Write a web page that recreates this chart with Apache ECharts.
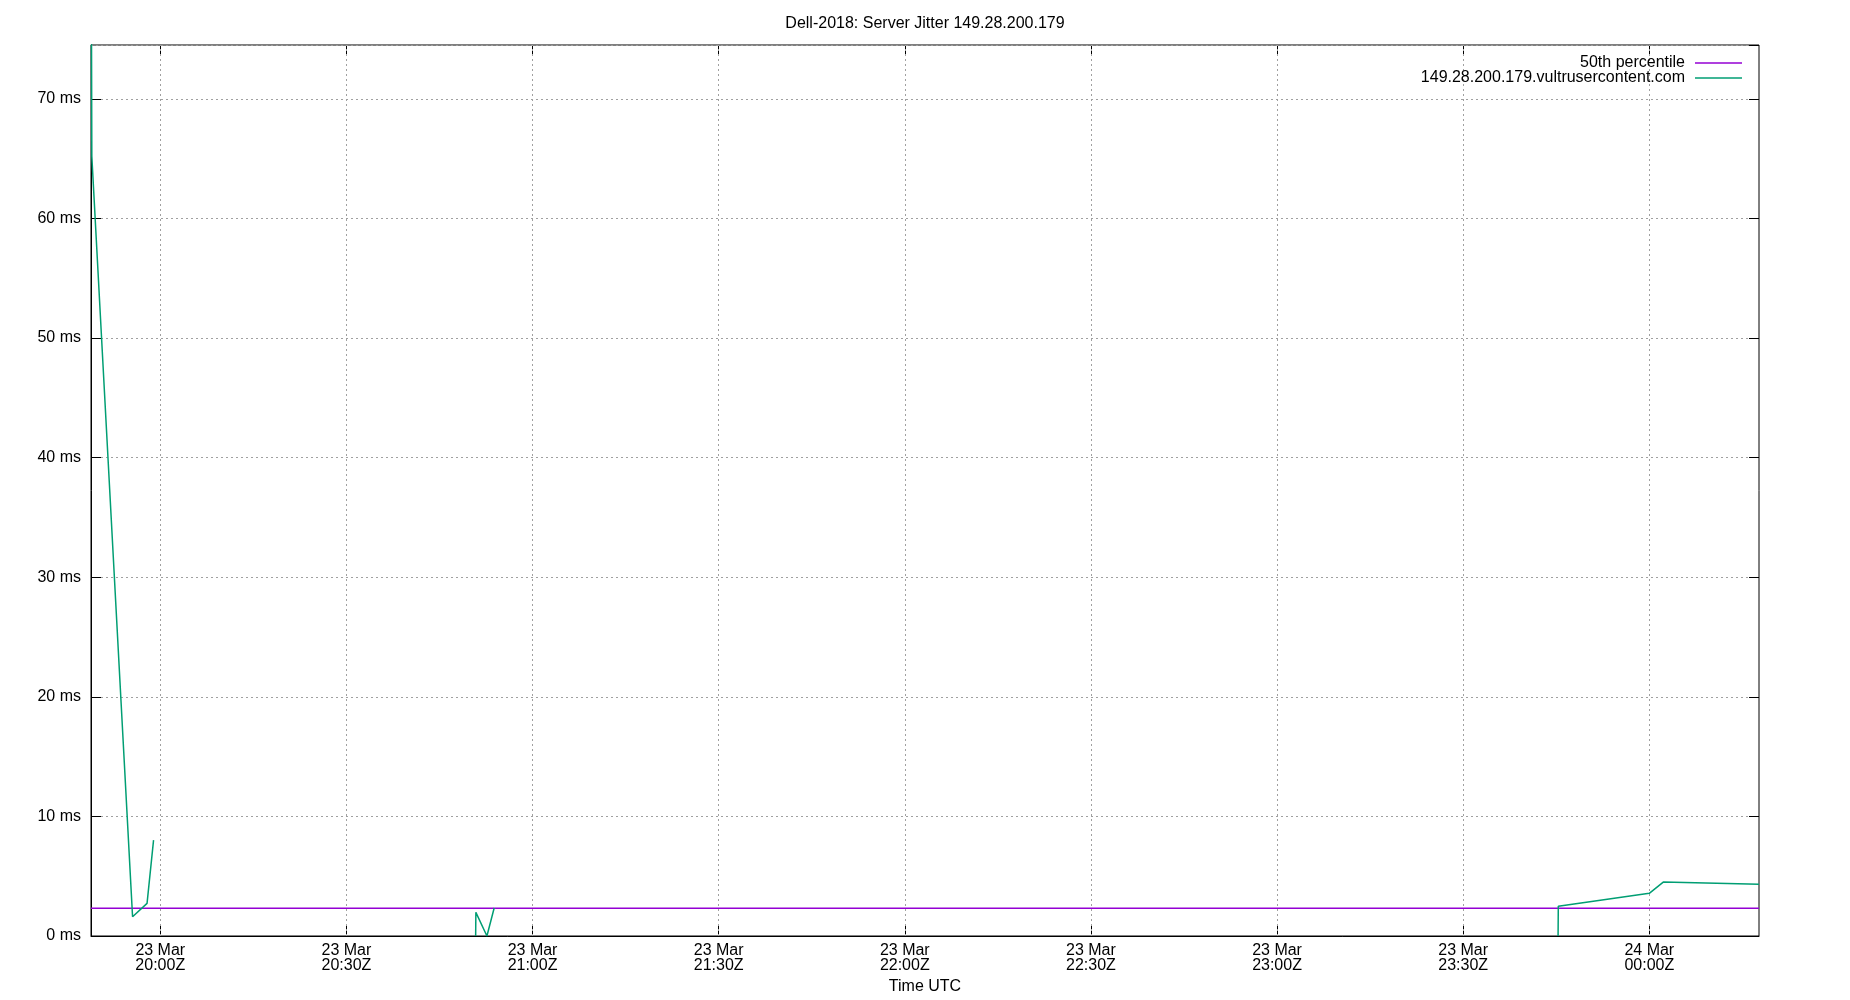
<!DOCTYPE html>
<html>
<head>
<meta charset="utf-8">
<script src="https://cdn.jsdelivr.net/npm/echarts@6/dist/echarts.min.js"></script>
<style>
html,body{margin:0;padding:0;background:#fff;}
#chart{width:1850px;height:1000px;}
</style>
</head>
<body>
<div id="chart"></div>
<script>
// ---- data ----
const chartTitle = 'Dell-2018: Server Jitter 149.28.200.179';
const xAxisTitle = 'Time UTC';
const xRange = ['2024-03-23T19:48:50Z', '2024-03-24T00:17:41Z'];
const xTickTimes = [
  '2024-03-23T20:00:00Z', '2024-03-23T20:30:00Z', '2024-03-23T21:00:00Z',
  '2024-03-23T21:30:00Z', '2024-03-23T22:00:00Z', '2024-03-23T22:30:00Z',
  '2024-03-23T23:00:00Z', '2024-03-23T23:30:00Z', '2024-03-24T00:00:00Z'
];
const yRange = [0, 74.5];
const yTickStep = 10;
const monthNames = ['Jan','Feb','Mar','Apr','May','Jun','Jul','Aug','Sep','Oct','Nov','Dec'];

const medianName = '50th percentile';
const medianTimes = ['2024-03-23T19:48:50Z', '2024-03-24T00:17:41Z'];
const medianValues = [2.31, 2.31];

const hostName = '149.28.200.179.vultrusercontent.com';
const hostTimes = [
  '2024-03-23T19:48:40Z', '2024-03-23T19:48:58Z', '2024-03-23T19:55:32Z',
  '2024-03-23T19:57:52Z', '2024-03-23T19:58:55Z', '2024-03-23T20:25:00Z',
  '2024-03-23T20:50:50Z', '2024-03-23T20:50:52Z', '2024-03-23T20:52:39Z',
  '2024-03-23T20:53:49Z', '2024-03-23T22:00:00Z', '2024-03-23T23:45:18Z',
  '2024-03-23T23:45:20Z', '2024-03-24T00:00:00Z', '2024-03-24T00:02:15Z',
  '2024-03-24T00:17:41Z'
];
const hostValues = [
  120, 65.2, 1.61,
  2.73, 8.02, null,
  0, 1.98, 0,
  2.34, null, 0,
  2.48, 3.57, 4.51,
  4.32
];

// ---- chart ----
const FONT = '"Liberation Sans", Arial, sans-serif';
const ms = t => Date.parse(t);
const pad = n => (n < 10 ? '0' : '') + n;
const toPairs = (ts, vs) => ts.map((t, i) => [ms(t), vs[i]]);
const tickValues = xTickTimes.map(ms);
const gridStyle = { color: '#a0a0a0', width: 1, type: [2, 3] };

const chart = echarts.init(document.getElementById('chart'));
chart.setOption({
  animation: false,
  backgroundColor: '#fff',
  textStyle: { fontFamily: FONT },
  title: {
    text: chartTitle, left: 'center', top: 11,
    textStyle: { fontFamily: FONT, fontSize: 16, fontWeight: 'normal', color: '#000' }
  },
  legend: [
    { data: [medianName], right: 108, top: 55, padding: 0, align: 'right', icon: 'rect',
      itemWidth: 47, itemHeight: 1.5,
      textStyle: { fontFamily: FONT, fontSize: 16, color: '#000', padding: [0, 5, 0, 0] } },
    { data: [hostName], right: 108, top: 70, padding: 0, align: 'right', icon: 'rect',
      itemWidth: 47, itemHeight: 1.5,
      textStyle: { fontFamily: FONT, fontSize: 16, color: '#000', padding: [0, 5, 0, 0] } }
  ],
  grid: { left: 91, right: 91, top: 45, bottom: 64, show: true, borderColor: '#000', borderWidth: 1, containLabel: false },
  xAxis: [
    {
      type: 'value', position: 'bottom',
      min: ms(xRange[0]), max: ms(xRange[1]),
      name: xAxisTitle, nameLocation: 'middle', nameGap: 41,
      nameTextStyle: { fontFamily: FONT, fontSize: 16, color: '#000' },
      axisLine: { show: true, onZero: false, lineStyle: { color: '#000', width: 1 } },
      axisTick: { show: true, inside: true, length: 10, customValues: tickValues, lineStyle: { color: '#000' } },
      axisLabel: {
        show: true, margin: 7, fontFamily: FONT, fontSize: 16, lineHeight: 15, color: '#000',
        customValues: tickValues, hideOverlap: false,
        formatter: function (v) {
          const d = new Date(v);
          return d.getUTCDate() + ' ' + monthNames[d.getUTCMonth()] + '\n' +
            pad(d.getUTCHours()) + ':' + pad(d.getUTCMinutes()) + 'Z';
        }
      },
      splitLine: { show: false }
    },
    {
      type: 'value', position: 'top',
      min: ms(xRange[0]), max: ms(xRange[1]),
      axisLine: { show: false, onZero: false },
      axisTick: { show: true, inside: true, length: 10, customValues: tickValues, lineStyle: { color: '#000' } },
      axisLabel: { show: false },
      splitLine: { show: false }
    }
  ],
  yAxis: [
    {
      type: 'value', position: 'left',
      min: yRange[0], max: yRange[1], interval: yTickStep,
      axisLine: { show: true, onZero: false, lineStyle: { color: '#000', width: 1 } },
      axisTick: { show: true, inside: true, length: 10, lineStyle: { color: '#000' } },
      axisLabel: { show: true, margin: 10, fontFamily: FONT, fontSize: 16, color: '#000',
        showMaxLabel: false, formatter: '{value} ms' },
      splitLine: { show: true, lineStyle: gridStyle }
    },
    {
      type: 'value', position: 'right',
      min: yRange[0], max: yRange[1], interval: yTickStep,
      axisLine: { show: false, onZero: false },
      axisTick: { show: true, inside: true, length: 10, lineStyle: { color: '#000' } },
      axisLabel: { show: false },
      splitLine: { show: false }
    }
  ],
  series: [
    {
      name: medianName, type: 'line', xAxisIndex: 0, yAxisIndex: 0,
      data: toPairs(medianTimes, medianValues),
      symbol: 'none', clip: true, z: 2,
      lineStyle: { color: '#9400d3', width: 1.5 }, itemStyle: { color: '#9400d3' },
      markLine: {
        silent: true, symbol: 'none', z: 1,
        label: { show: false },
        lineStyle: gridStyle,
        emphasis: { disabled: true },
        data: tickValues.map(v => ({ xAxis: v }))
      }
    },
    {
      name: hostName, type: 'line', xAxisIndex: 0, yAxisIndex: 0,
      data: toPairs(hostTimes, hostValues),
      symbol: 'none', clip: true, connectNulls: false, z: 3,
      lineStyle: { color: '#009e73', width: 1.5 }, itemStyle: { color: '#009e73' }
    }
  ]
});
</script>
</body>
</html>
